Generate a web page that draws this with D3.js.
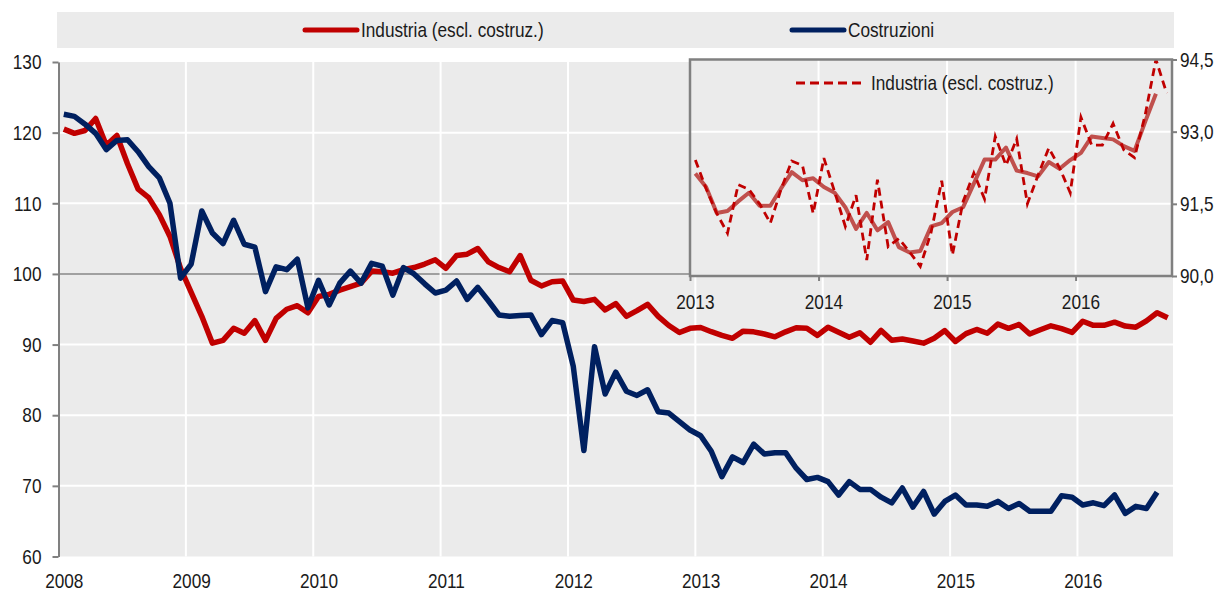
<!DOCTYPE html>
<html>
<head>
<meta charset="utf-8">
<title>Industria e costruzioni</title>
<style>
  body { margin: 0; background: #fff; }
  svg { display: block; font-family: "Liberation Sans", Arial, sans-serif; }
  .tick text { font-size: 21px; fill: #1a1a1a; }
</style>
</head>
<body>
<svg width="1219" height="594"></svg>
<script src="https://cdnjs.cloudflare.com/ajax/libs/d3/7.8.5/d3.min.js"></script>
<script>
// dati mensili da gen 2008 (indice 0) a set 2016
const anni = [2008, 2009, 2010, 2011, 2012, 2013, 2014, 2015, 2016];
const yTicks = [60, 70, 80, 90, 100, 110, 120, 130];

const industria = [
  120.5, 119.9, 120.3, 122.0, 118.2, 119.6, 115.6, 112.0, 110.8, 108.4, 105.3, 100.8,
  97.4, 94.0, 90.2, 90.6, 92.3, 91.6, 93.4, 90.6, 93.7, 95.0, 95.5, 94.5,
  96.8, 97.1, 97.7, 98.2, 98.7, 100.4, 100.3, 100.1, 100.6, 100.9, 101.4, 102.0,
  100.8, 102.6, 102.8, 103.6, 101.7, 100.9, 100.3, 102.6, 99.1, 98.3, 98.9, 99.0,
  96.3, 96.1, 96.4, 94.9, 95.8, 94.0, 94.8, 95.7, 94.0, 92.7, 91.7, 92.3,
  92.41, 91.82, 91.3, 90.89, 91.9, 91.8, 91.5, 91.1, 91.8, 92.39, 92.3, 91.3,
  92.45, 91.75, 91.03, 91.68, 90.33, 92.0, 90.61, 90.78, 90.5, 90.2, 90.9, 91.98,
  90.44, 91.55, 92.14, 91.6, 92.9, 92.3, 92.85, 91.5, 92.1, 92.66, 92.25, 91.73,
  93.3, 92.72, 92.72, 93.17, 92.62, 92.46, 93.35, 94.5, 93.8
];

const costruzioni = [
  122.6, 122.3, 121.2, 119.9, 117.6, 118.9, 119.0, 117.3, 115.2, 113.6, 110.0, 99.4,
  101.4, 108.9, 105.8, 104.3, 107.6, 104.2, 103.8, 97.5, 101.0, 100.6, 102.1, 95.2,
  99.1, 95.6, 98.7, 100.4, 98.7, 101.5, 101.1, 97.0, 100.9, 100.0, 98.6, 97.3,
  97.7, 99.0, 96.4, 98.1, 96.2, 94.2, 94.0, 94.1, 94.2, 91.4, 93.4, 93.1,
  86.9, 75.0, 89.7, 83.0, 86.1, 83.4, 82.8, 83.6, 80.5, 80.3, 79.1, 77.9,
  77.1, 74.9, 71.3, 74.1, 73.3, 75.9, 74.5, 74.7, 74.7, 72.5, 70.9, 71.2,
  70.6, 68.7, 70.6, 69.5, 69.5, 68.4, 67.6, 69.7, 67.0, 69.2, 66.0, 67.8,
  68.7, 67.3, 67.3, 67.1, 67.8, 66.8, 67.5, 66.4, 66.4, 66.4, 68.6, 68.4,
  67.3, 67.6, 67.2, 68.7, 66.1, 67.1, 66.8, 69.1
];

// riquadro: gen 2013 - set 2016
const insetAnni = [2013, 2014, 2015, 2016];
const insetTicks = [90, 91.5, 93, 94.5];
const insetMensile = industria.slice(60);
const insetMedia = [
  92.13, 91.85, 91.31, 91.35, 91.55, 91.73, 91.46, 91.46, 91.82, 92.16, 91.99, 92.03,
  91.85, 91.73, 91.43, 90.98, 91.31, 90.95, 91.12, 90.60, 90.49, 90.52, 91.03, 91.10,
  91.33, 91.43, 91.92, 92.42, 92.42, 92.67, 92.19, 92.14, 92.07, 92.37, 92.23, 92.41,
  92.56, 92.90, 92.87, 92.84, 92.70, 92.60, 93.21, 93.79
];

const svg = d3.select('svg');
const it = d3.formatLocale({decimal: ',', thousands: '.', grouping: [3], currency: ['', '€']});

// scale principali
const x = d3.scaleLinear().domain([0, 105]).range([58.5, 1173]);
const y = d3.scaleLinear().domain([60, 130]).range([556.5, 62]);

// legenda
svg.append('rect').attr('x', 57).attr('y', 12).attr('width', 1117).attr('height', 36).attr('fill', '#ebebeb');
const legenda = [
  {nome: 'Industria (escl. costruz.)', colore: '#c00000', x0: 305},
  {nome: 'Costruzioni', colore: '#002060', x0: 792}
];
legenda.forEach(l => {
  svg.append('line').attr('x1', l.x0).attr('x2', l.x0 + 52).attr('y1', 30).attr('y2', 30)
     .attr('stroke', l.colore).attr('stroke-width', 5).attr('stroke-linecap', 'round');
  svg.append('text').attr('x', l.x0 + 56).attr('y', 37).attr('font-size', 21).attr('fill', '#1a1a1a').text(l.nome);
});

// area grafico
svg.append('rect').attr('x', x(0)).attr('y', y(130)).attr('width', x(105) - x(0)).attr('height', y(60) - y(130)).attr('fill', '#ebebeb');

svg.append('g').selectAll('line').data(yTicks.filter(v => v > 60 && v < 130)).enter().append('line')
   .attr('x1', x(0)).attr('x2', x(105)).attr('y1', d => y(d)).attr('y2', d => y(d))
   .attr('stroke', d => d === 100 ? '#a0a0a0' : '#fff').attr('stroke-width', 2);

svg.append('g').selectAll('line').data(anni.slice(1)).enter().append('line')
   .attr('x1', d => x((d - 2008) * 12)).attr('x2', d => x((d - 2008) * 12))
   .attr('y1', y(130)).attr('y2', y(60)).attr('stroke', '#fff').attr('stroke-width', 2);

// assi
const assey = svg.append('g').attr('transform', 'translate(' + x(0) + ',0)')
   .call(d3.axisLeft(y).tickValues(yTicks).tickSize(6).tickPadding(11).tickSizeOuter(0));
assey.select('.domain').attr('stroke', '#808080').attr('stroke-width', 2);
assey.selectAll('.tick line').attr('stroke', '#808080').attr('stroke-width', 2);

const assex = svg.append('g').attr('transform', 'translate(0,' + y(60) + ')')
   .call(d3.axisBottom(x).tickValues(anni.map(a => (a - 2008) * 12 + 0.5))
     .tickFormat((d, i) => anni[i]).tickSize(0).tickPadding(17));
assex.select('.domain').remove();

// serie principali
const linea = d3.line().x((d, i) => x(i + 0.5)).y(d => y(d));
svg.append('path').datum(industria).attr('d', linea).attr('fill', 'none')
   .attr('stroke', '#c00000').attr('stroke-width', 5.5).attr('stroke-linejoin', 'round');
svg.append('path').datum(costruzioni).attr('d', linea).attr('fill', 'none')
   .attr('stroke', '#002060').attr('stroke-width', 5.5).attr('stroke-linejoin', 'round');

// riquadro
const xi = d3.scaleLinear().domain([0, 45]).range([690, 1172]);
const yi = d3.scaleLinear().domain([90, 94.5]).range([276, 59.5]);

svg.append('rect').attr('x', xi(0)).attr('y', yi(94.5)).attr('width', xi(45) - xi(0)).attr('height', yi(90) - yi(94.5)).attr('fill', '#ebebeb');
svg.append('g').selectAll('line').data([91.5, 93]).enter().append('line')
   .attr('x1', xi(0)).attr('x2', xi(45)).attr('y1', d => yi(d)).attr('y2', d => yi(d))
   .attr('stroke', '#fff').attr('stroke-width', 2);
svg.append('g').selectAll('line').data(insetAnni.slice(1)).enter().append('line')
   .attr('x1', d => xi((d - 2013) * 12)).attr('x2', d => xi((d - 2013) * 12))
   .attr('y1', yi(94.5)).attr('y2', yi(90)).attr('stroke', '#fff').attr('stroke-width', 2);

const lineai = d3.line().x((d, i) => xi(i + 0.5)).y(d => yi(d));
svg.append('path').datum(insetMedia).attr('d', lineai).attr('fill', 'none')
   .attr('stroke', '#c0504d').attr('stroke-width', 4).attr('stroke-linejoin', 'round');
svg.append('path').datum(insetMensile).attr('d', lineai).attr('fill', 'none')
   .attr('stroke', '#c00000').attr('stroke-width', 2.8).attr('stroke-dasharray', '8,5');

svg.append('rect').attr('x', xi(0)).attr('y', yi(94.5)).attr('width', xi(45) - xi(0)).attr('height', yi(90) - yi(94.5))
   .attr('fill', 'none').attr('stroke', '#808080').attr('stroke-width', 2.5);

const asseyi = svg.append('g').attr('transform', 'translate(' + xi(45) + ',0)')
   .call(d3.axisRight(yi).tickValues(insetTicks).tickFormat(it.format('.1f')).tickSize(5).tickPadding(3).tickSizeOuter(0));
asseyi.select('.domain').remove();
asseyi.selectAll('.tick line').attr('stroke', '#808080').attr('stroke-width', 2);

const assexi = svg.append('g').attr('transform', 'translate(0,' + yi(90) + ')')
   .call(d3.axisBottom(xi).tickValues(insetAnni.map(a => (a - 2013) * 12)).tickFormat('').tickSize(5).tickSizeOuter(0));
assexi.select('.domain').remove();
assexi.selectAll('.tick line').attr('stroke', '#808080').attr('stroke-width', 2);

svg.append('g').selectAll('text').data(insetAnni).enter().append('text')
   .attr('x', d => xi((d - 2013) * 12 + 0.5)).attr('y', 309).attr('text-anchor', 'middle')
   .attr('font-size', 21).attr('fill', '#1a1a1a').text(d => d);

// legenda riquadro
svg.append('line').attr('x1', 796).attr('x2', 864).attr('y1', 83).attr('y2', 83)
   .attr('stroke', '#c00000').attr('stroke-width', 2.8).attr('stroke-dasharray', '9,5');
svg.append('text').attr('x', 871).attr('y', 90).attr('font-size', 21).attr('fill', '#1a1a1a').text('Industria (escl. costruz.)');

// carattere stretto tipo Arial Narrow: schiaccio il testo in orizzontale attorno alla sua x
const stretto = 0.82;
svg.selectAll('text').each(function() {
  const x0 = +this.getAttribute('x') || 0;
  d3.select(this).attr('transform', 'translate(' + (x0 * (1 - stretto)) + ',0) scale(' + stretto + ',1)');
});
</script>
</body>
</html>
